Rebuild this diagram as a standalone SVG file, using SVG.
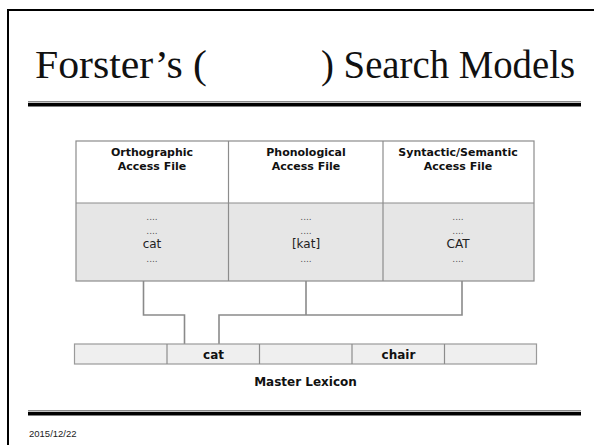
<svg xmlns="http://www.w3.org/2000/svg" width="594" height="445" viewBox="0 0 594 445">
  <style>
    .title { font-family: "Liberation Serif", "Times New Roman", serif; font-size: 40px; fill: #111; }
    .hdr { font-family: "DejaVu Sans", Verdana, sans-serif; font-weight: bold; font-size: 11px; fill: #111; text-anchor: middle; }
    .lex { font-family: "DejaVu Sans", Verdana, sans-serif; font-weight: bold; font-size: 12px; fill: #111; text-anchor: middle; }
    .cell { font-family: "DejaVu Sans", Verdana, sans-serif; font-size: 12px; fill: #222; text-anchor: middle; }
    .dots { font-family: "DejaVu Sans", Verdana, sans-serif; font-size: 9px; fill: #555; text-anchor: middle; }
    .date { font-family: "Liberation Sans", Arial, sans-serif; font-size: 9.5px; fill: #222; }
    .grid { stroke: #8c8c8c; stroke-width: 1.2; fill: none; }
    .wire { stroke: #8a8a8a; stroke-width: 1.6; fill: none; }
  </style>

  <!-- slide frame -->
  <g id="frame">
    <rect x="0" y="0" width="594" height="445" fill="#ffffff"/>
    <polyline points="8,445 8,10 594,10" fill="none" stroke="#000" stroke-width="2"/>
  </g>

  <!-- heading -->
  <g id="heading">
    <text class="title" x="35" y="78" textLength="172" lengthAdjust="spacingAndGlyphs">Forster’s (</text>
    <text class="title" x="321" y="78" textLength="254" lengthAdjust="spacingAndGlyphs">) Search Models</text>
    <rect x="28" y="101" width="553" height="1.5" fill="#8a8a8a"/>
    <rect x="28" y="103" width="553" height="3.5" fill="#000"/>
  </g>

  <!-- access files table -->
  <g id="access-files">
    <rect x="76" y="141" width="458" height="62" fill="#ffffff"/>
    <rect x="76" y="203" width="458" height="78" fill="#e6e6e6"/>
    <rect class="grid" x="76" y="141" width="458" height="140"/>
    <line class="grid" x1="76" y1="203" x2="534" y2="203"/>
    <line class="grid" x1="228.5" y1="141" x2="228.5" y2="281"/>
    <line class="grid" x1="383" y1="141" x2="383" y2="281"/>
  </g>

  <g id="orthographic">
    <text class="hdr" x="152" y="156">Orthographic</text>
    <text class="hdr" x="152" y="170">Access File</text>
    <text class="dots" x="152" y="220">....</text>
    <text class="dots" x="152" y="234">....</text>
    <text class="cell" x="152" y="248">cat</text>
    <text class="dots" x="152" y="262">....</text>
  </g>

  <g id="phonological">
    <text class="hdr" x="306" y="156">Phonological</text>
    <text class="hdr" x="306" y="170">Access File</text>
    <text class="dots" x="306" y="220">....</text>
    <text class="dots" x="306" y="234">....</text>
    <text class="cell" x="306" y="248">[kat]</text>
    <text class="dots" x="306" y="262">....</text>
  </g>

  <g id="syntactic-semantic">
    <text class="hdr" x="458" y="156">Syntactic/Semantic</text>
    <text class="hdr" x="458" y="170">Access File</text>
    <text class="dots" x="458" y="220">....</text>
    <text class="dots" x="458" y="234">....</text>
    <text class="cell" x="458" y="248">CAT</text>
    <text class="dots" x="458" y="262">....</text>
  </g>

  <!-- links from access files into the master lexicon -->
  <g id="connectors">
    <polyline class="wire" points="143.5,281 143.5,315 184.5,315 184.5,344"/>
    <polyline class="wire" points="306,281 306,315"/>
    <polyline class="wire" points="462,281 462,315 219,315 219,344"/>
  </g>

  <!-- master lexicon row -->
  <g id="master-lexicon">
    <rect x="74.5" y="344" width="462" height="20" fill="#efefef" stroke="#9a9a9a" stroke-width="1.2"/>
    <line class="grid" x1="167" y1="344" x2="167" y2="364"/>
    <line class="grid" x1="259.5" y1="344" x2="259.5" y2="364"/>
    <line class="grid" x1="352" y1="344" x2="352" y2="364"/>
    <line class="grid" x1="444.5" y1="344" x2="444.5" y2="364"/>
    <text class="lex" x="213.5" y="358.5">cat</text>
    <text class="lex" x="398.5" y="358.5">chair</text>
    <text class="lex" x="305.5" y="386">Master Lexicon</text>
  </g>

  <!-- footer -->
  <g id="footer">
    <rect x="28" y="410" width="553" height="1.5" fill="#8a8a8a"/>
    <rect x="28" y="412" width="553" height="3.5" fill="#000"/>
    <text class="date" x="29" y="437">2015/12/22</text>
  </g>
</svg>
